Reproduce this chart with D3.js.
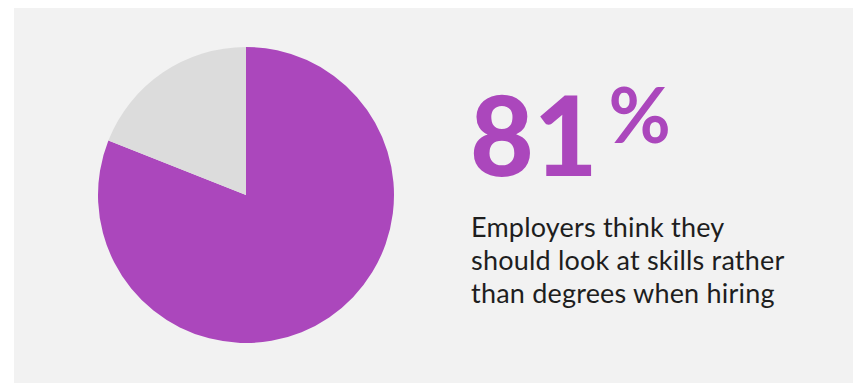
<!DOCTYPE html>
<html>
<head>
<meta charset="utf-8">
<script src="https://cdn.jsdelivr.net/npm/d3@7"></script>
<style>
  body { margin: 0; background: #fff; }
</style>
</head>
<body>
<div id="chart"></div>
<script>
let w = 856
let h = 383

// data
let labels = ["Skills over degrees", "Other"]
let values = [81, 19]
let colors = ["#ab47bc", "#dcdcdc"]
let headline = "81"
let caption = ["Employers think they", "should look at skills rather", "than degrees when hiring"]

let svg = d3.select("#chart")
  .append("svg")
  .attr("width", w)
  .attr("height", h)

// panel
svg.append("rect")
  .attr("x", 14)
  .attr("y", 8)
  .attr("width", 839)
  .attr("height", h - 8)
  .attr("fill", "#f2f2f2")

let cx = 246, cy = 195, r = 148

let pie = d3.pie().sort(null).value(d => d)
let arc = d3.arc().innerRadius(0).outerRadius(r)

let g = svg.append("g").attr("transform", `translate(${cx},${cy})`)
g.selectAll("path")
  .data(pie(values))
  .join("path")
  .attr("d", arc)
  .attr("fill", (d, i) => colors[i])

// big number
let big = svg.append("text")
  .attr("x", 470)
  .attr("y", 176)
  .attr("font-family", "Lato, sans-serif")
  .attr("font-weight", 900)
  .attr("font-size", 110)
  .attr("fill", "#ab47bc")
big.append("tspan").text(headline)
big.append("tspan")
  .attr("font-size", 76)
  .attr("font-weight", 700)
  .attr("dy", -33)
  .attr("dx", 11)
  .text("%")

// caption
svg.append("g")
  .selectAll("text")
  .data(caption)
  .join("text")
  .attr("x", 471)
  .attr("y", (d, i) => 237 + i * 33)
  .attr("font-family", "Lato, sans-serif")
  .attr("font-size", 27)
  .attr("letter-spacing", 0.2)
  .attr("fill", "#1e1e1e")
  .text(d => d)
</script>
</body>
</html>
